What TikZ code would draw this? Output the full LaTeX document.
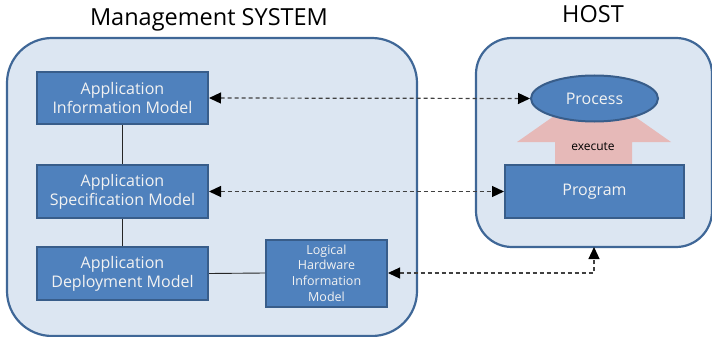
\documentclass[tikz,border=0pt]{standalone}
\usepackage{fontspec}
\setmainfont{Open Sans}
\usetikzlibrary{arrows.meta,shapes.geometric}
\definecolor{panelfill}{HTML}{DCE6F2}
\definecolor{paneledge}{HTML}{3F6797}
\definecolor{boxfill}{HTML}{4F81BD}
\definecolor{boxedge}{HTML}{385D8A}
\definecolor{boxtext}{HTML}{F2F2F2}
\definecolor{execpink}{HTML}{E6B9B8}
\tikzset{
  panel/.style={draw=paneledge, fill=panelfill, line width=2.2pt},
  model/.style={draw=boxedge, fill=boxfill, line width=2pt, text=boxtext,
    align=center, inner sep=0pt, font=\fontsize{16}{19}\selectfont},
  small/.style={model, font=\fontsize{12.5}{15.7}\selectfont},
  title/.style={font=\fontsize{23.5}{26}\selectfont, inner sep=0pt},
  link/.style={draw=black!85, line width=0.9pt},
  dashlink/.style={draw=black!75, line width=1.2pt, dash pattern=on 4pt off 3pt,
    {Triangle[length=12pt,width=11pt,color=black]}-{Triangle[length=12pt,width=11pt,color=black]}}
}
\begin{document}
\begin{tikzpicture}[x=1pt,y=-1pt]
\useasboundingbox (0,0) rectangle (712,337);

% panels
\draw[panel, rounded corners=45pt] (7,38) rectangle (417,336);
\draw[panel, rounded corners=36pt] (476,38) rectangle (712,247);
\node[title] (mtitle) at (209,20) {Management SYSTEM};
\node[title] (htitle) at (593,14) {HOST};
\coordinate (hostbottom) at (594,247);

% management side models
\node[model, minimum width=171pt, minimum height=52pt] (aim) at (122.5,98) {Application\\Information Model};
\node[model, minimum width=171pt, minimum height=53pt] (asm) at (122.5,191.5) {Application\\Specification Model};
\node[model, minimum width=171pt, minimum height=53pt] (adm) at (122.5,273.5) {Application\\Deployment Model};
\node[small, minimum width=121pt, minimum height=67pt] (lhim) at (326.5,273) {Logical\\Hardware\\Information\\Model};

\draw[link] (aim.south) -- (asm.north);
\draw[link] (asm.south) -- (adm.north);
\draw[link] (adm.east) -- (lhim.west);

% host side: execute arrow, program, process
\fill[execpink] (555,164) -- (555,142) -- (517,142) -- (594,88) -- (671,142) -- (632,142) -- (632,164) -- cycle;
\node[font=\fontsize{12}{13}\selectfont, inner sep=0pt] (exec) at (593,147) {execute};
\node[model, minimum width=179pt, minimum height=53pt] (prog) at (594.5,191.5) {Program};
\node[model, ellipse, minimum width=127pt, minimum height=46pt] (proc) at (594.5,98.5) {Process};

% correspondences
\draw[dashlink] (aim.east) -- (proc.west);
\draw[dashlink] (asm.east) -- (prog.west);
\draw[dashlink] (lhim.east) -| (hostbottom);
\end{tikzpicture}
\end{document}
